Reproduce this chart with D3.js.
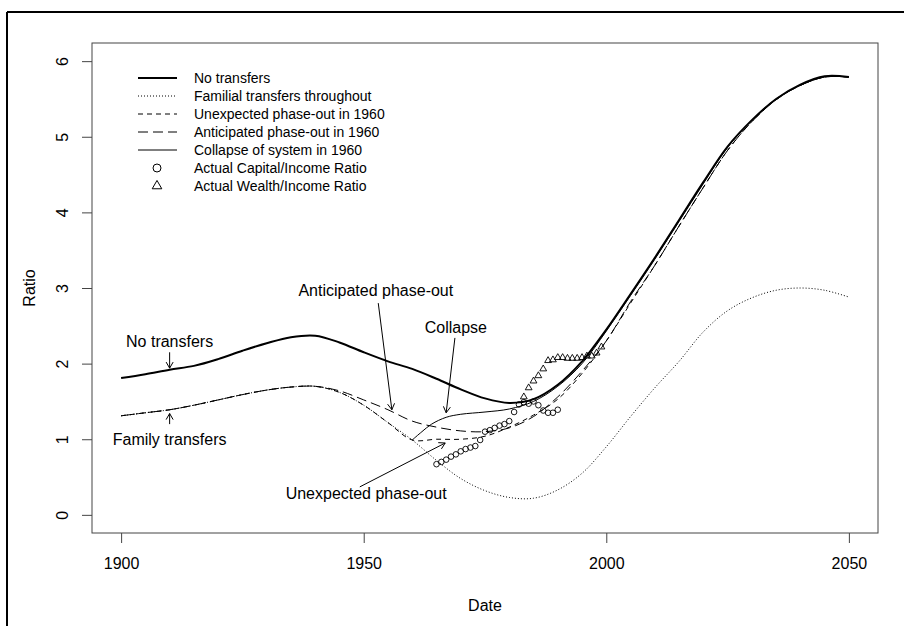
<!DOCTYPE html>
<html>
<head>
<meta charset="utf-8">
<script src="https://cdn.jsdelivr.net/npm/d3@7"></script>
<style>
  body { margin: 0; background: #fff; }
  svg { display: block; font-family: "Liberation Sans", Arial, sans-serif; }
</style>
</head>
<body>
<div id="chart"></div>
<script>
// series (ratio values)
var years = [1900,1905,1910,1915,1920,1925,1930,1935,1940,1945,1950,1955,1960,1965,1970,1975,1980,1985,1990,1995,2000,2005,2010,2015,2020,2025,2030,2035,2040,2045,2050];
var noTransfers = [1.81,1.86,1.92,1.97,2.06,2.17,2.27,2.35,2.37,2.28,2.15,2.03,1.93,1.80,1.66,1.54,1.48,1.53,1.72,2.03,2.45,2.92,3.40,3.90,4.40,4.87,5.22,5.50,5.69,5.80,5.79];
var familial = [1.31,1.35,1.39,1.45,1.52,1.59,1.65,1.69,1.70,1.62,1.45,1.22,0.99,0.72,0.48,0.32,0.23,0.22,0.33,0.55,0.90,1.30,1.68,2.03,2.42,2.70,2.87,2.97,3.00,2.97,2.88];
var unexpected = [1.31,1.35,1.39,1.45,1.52,1.59,1.65,1.69,1.70,1.62,1.45,1.22,0.99,1.00,1.00,1.04,1.16,1.32,1.53,1.87,2.30,2.80,3.30,3.82,4.33,4.82,5.20,5.49,5.68,5.79,5.79];
var anticipated = [1.31,1.35,1.39,1.45,1.52,1.59,1.65,1.69,1.70,1.64,1.52,1.39,1.24,1.16,1.11,1.10,1.15,1.30,1.56,1.90,2.30,2.82,3.30,3.82,4.33,4.82,5.20,5.49,5.68,5.79,5.79];
var collapseYears = [1960,1962,1964,1967,1970,1975,1980,1985,1990,1995,2000,2005,2010,2015,2020,2025,2030,2035,2040,2045,2050];
var collapse = [0.99,1.10,1.20,1.29,1.33,1.36,1.40,1.50,1.70,2.00,2.43,2.90,3.38,3.88,4.38,4.86,5.22,5.50,5.68,5.79,5.79];

var capitalYears = d3.range(1965, 1991);
var capitalRatio = [0.67,0.70,0.73,0.77,0.80,0.84,0.87,0.89,0.91,0.99,1.10,1.12,1.15,1.18,1.20,1.24,1.36,1.46,1.49,1.47,1.50,1.45,1.38,1.35,1.35,1.39];
var wealthYears = d3.range(1983, 2000);
var wealthRatio = [1.56,1.68,1.77,1.84,1.93,2.04,2.05,2.08,2.08,2.07,2.07,2.07,2.08,2.10,2.10,2.14,2.22];

var xTicks = [1900, 1950, 2000, 2050];
var yTicks = [0, 1, 2, 3, 4, 5, 6];

var legendLabels = ["No transfers", "Familial transfers throughout", "Unexpected phase-out in 1960",
  "Anticipated phase-out in 1960", "Collapse of system in 1960",
  "Actual Capital/Income Ratio", "Actual Wealth/Income Ratio"];

// annotation labels with arrows, in data units
var notes = [
  {text: "No transfers", x: 1910, y: 2.22, from: [1910, 2.15], to: [1910, 1.94]},
  {text: "Family transfers", x: 1910, y: 0.93, from: [1910, 1.20], to: [1910, 1.34]},
  {text: "Anticipated phase-out", x: 1952.5, y: 2.89, from: [1953.0, 2.80], to: [1955.8, 1.39]},
  {text: "Collapse", x: 1969, y: 2.40, from: [1968.8, 2.34], to: [1967.0, 1.35]},
  {text: "Unexpected phase-out", x: 1950.5, y: 0.21, from: [1949.2, 0.37], to: [1966.8, 0.95]}
];

var W = 904, H = 626;
var svg = d3.select("#chart").append("svg").attr("width", W).attr("height", H);

var x = d3.scaleLinear().domain([1894, 2056]).range([92, 878]);
var y = d3.scaleLinear().domain([-0.24, 6.24]).range([533, 43]);

// outer frame (top and left only)
svg.append("path").attr("d", "M7,12H904M7,12V626")
  .attr("fill", "none").attr("stroke", "#000").attr("stroke-width", 2);

// plot box
svg.append("rect").attr("x", 92).attr("y", 43).attr("width", 786).attr("height", 490)
  .attr("fill", "none").attr("stroke", "#444").attr("stroke-width", 1);

// axes
var xAxis = svg.append("g").attr("transform", "translate(0,533)")
  .call(d3.axisBottom(x).tickValues(xTicks).tickFormat(d3.format("d")).tickSize(10).tickPadding(0));
xAxis.select(".domain").remove();
xAxis.selectAll("line").attr("stroke", "#444");
xAxis.selectAll("text").attr("y", 36).attr("dy", null).attr("font-size", 16)
  .attr("font-family", "Liberation Sans, Arial, sans-serif").attr("fill", "#000");

var yAxis = svg.append("g").attr("transform", "translate(92,0)")
  .call(d3.axisLeft(y).tickValues(yTicks).tickFormat(d3.format("d")).tickSize(10));
yAxis.select(".domain").remove();
yAxis.selectAll("line").attr("stroke", "#444");
yAxis.selectAll("text")
  .attr("x", null).attr("dy", null)
  .attr("text-anchor", "middle")
  .attr("transform", "translate(-24,0) rotate(-90)")
  .attr("font-size", 16).attr("font-family", "Liberation Sans, Arial, sans-serif").attr("fill", "#000");

svg.append("text").attr("x", 485).attr("y", 611).attr("text-anchor", "middle")
  .attr("font-size", 16).text("Date");
svg.append("text").attr("transform", "translate(35,288) rotate(-90)").attr("text-anchor", "middle")
  .attr("font-size", 16).text("Ratio");

// lines
var line = d3.line().curve(d3.curveCatmullRom.alpha(0.5));
function pts(xs, ys) { return xs.map(function(d, i) { return [x(d), y(ys[i])]; }); }

var styles = [
  {w: 2, dash: null},
  {w: 1, dash: "1,2"},
  {w: 1, dash: "5,4"},
  {w: 1, dash: "10,5"},
  {w: 1, dash: null}
];
var series = [
  pts(years, noTransfers),
  pts(years, familial),
  pts(years, unexpected),
  pts(years, anticipated),
  pts(collapseYears, collapse)
];

svg.selectAll(".series").data(series).enter().append("path")
  .attr("class", "series")
  .attr("d", line)
  .attr("fill", "none")
  .attr("stroke", "#000")
  .attr("stroke-width", function(d, i) { return styles[i].w; })
  .attr("stroke-dasharray", function(d, i) { return styles[i].dash; });

// actual data points
svg.selectAll(".cap").data(capitalYears).enter().append("circle")
  .attr("class", "cap")
  .attr("cx", function(d) { return x(d); })
  .attr("cy", function(d, i) { return y(capitalRatio[i]); })
  .attr("r", 2.8)
  .attr("fill", "none").attr("stroke", "#000").attr("stroke-width", 0.9);

var tri = d3.symbol().type(d3.symbolTriangle).size(20);
svg.selectAll(".wealth").data(wealthYears).enter().append("path")
  .attr("class", "wealth")
  .attr("d", tri)
  .attr("transform", function(d, i) { return "translate(" + x(d) + "," + y(wealthRatio[i]) + ")"; })
  .attr("fill", "none").attr("stroke", "#000").attr("stroke-width", 0.9);

// annotations
svg.selectAll(".note").data(notes).enter().append("text")
  .attr("class", "note")
  .attr("x", function(d) { return x(d.x); })
  .attr("y", function(d) { return y(d.y); })
  .attr("text-anchor", "middle")
  .attr("font-size", 16)
  .text(function(d) { return d.text; });

notes.forEach(function(d) {
  var x0 = x(d.from[0]), y0 = y(d.from[1]), x1 = x(d.to[0]), y1 = y(d.to[1]);
  var a = Math.atan2(y1 - y0, x1 - x0), L = 7, s = Math.PI / 6;
  svg.append("path")
    .attr("d", "M" + x0 + "," + y0 + "L" + x1 + "," + y1 +
      "M" + (x1 - L * Math.cos(a - s)) + "," + (y1 - L * Math.sin(a - s)) + "L" + x1 + "," + y1 +
      "L" + (x1 - L * Math.cos(a + s)) + "," + (y1 - L * Math.sin(a + s)))
    .attr("fill", "none").attr("stroke", "#000").attr("stroke-width", 1);
});

// legend
var legend = svg.append("g").attr("transform", "translate(138,78)");
legendLabels.forEach(function(label, i) {
  var g = legend.append("g").attr("transform", "translate(0," + (i * 18) + ")");
  if (i < 5) {
    g.append("line").attr("x1", 0).attr("x2", 39).attr("y1", 0).attr("y2", 0)
      .attr("stroke", "#000").attr("stroke-width", styles[i].w)
      .attr("stroke-dasharray", styles[i].dash);
  } else if (i === 5) {
    g.append("circle").attr("cx", 19).attr("cy", 0).attr("r", 4)
      .attr("fill", "none").attr("stroke", "#000");
  } else {
    g.append("path").attr("d", d3.symbol().type(d3.symbolTriangle).size(40))
      .attr("transform", "translate(19,0)")
      .attr("fill", "none").attr("stroke", "#000");
  }
  g.append("text").attr("x", 56).attr("y", 5).attr("font-size", 14).text(label);
});
</script>
</body>
</html>
